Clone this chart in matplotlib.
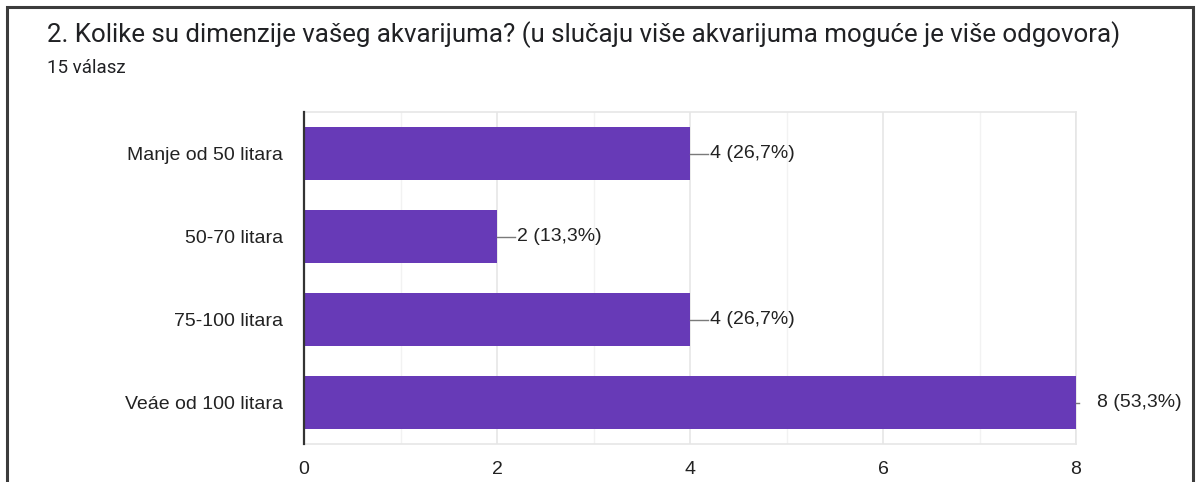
import matplotlib.pyplot as plt
from matplotlib.patches import Rectangle

plt.rcParams['font.family'] = ['Roboto', 'DejaVu Sans']

# data
categories = ["Manje od 50 litara", "50-70 litara", "75-100 litara", "Veáe od 100 litara"]
counts = [4, 2, 4, 8]
labels = ["4 (26,7%)", "2 (13,3%)", "4 (26,7%)", "8 (53,3%)"]
xticks = [0, 2, 4, 6, 8]

title = "2. Kolike su dimenzije vašeg akvarijuma? (u slučaju više akvarijuma moguće je više odgovora)"
subtitle = "15 válasz"

W, H = 1196, 482
fig = plt.figure(figsize=(W / 100, H / 100), dpi=100)
fig.patch.set_facecolor("white")

# card border
fig.patches.append(Rectangle((7 / W, -0.1), (1193 - 7) / W, 1.1 - 7 / H,
                             transform=fig.transFigure, fill=False,
                             edgecolor="#3c3c3c", linewidth=2.2, zorder=0))

fig.text(47 / W, 1 - 35 / H, title, fontsize=18.6, color="#202124", va="center")
fig.text(47 / W, 1 - 68 / H, subtitle, fontsize=13.5, color="#202124", va="center")

chart_font = ['Liberation Sans', 'DejaVu Sans']

ax = fig.add_axes([304 / W, 1 - 444 / H, (1076 - 304) / W, (444 - 112) / H])
y = list(range(len(categories)))
ax.barh(y, counts, height=0.63, color="#673AB7", zorder=3)
ax.set_ylim(len(categories) - 0.5, -0.5)
ax.set_xlim(0, 8)

ax.set_xticks(xticks)
ax.set_xticks([1, 3, 5, 7], minor=True)
ax.set_yticks(y)
ax.set_yticklabels(categories, family=chart_font)
for t in ax.get_xticklabels():
    t.set_family(chart_font)
ax.tick_params(axis="both", which="both", length=0, labelsize=14, colors="#222222")
ax.tick_params(axis="y", pad=15)
ax.tick_params(axis="x", pad=12)
ax.grid(axis="x", which="major", color="#e6e6e6", linewidth=1.2, zorder=0)
ax.grid(axis="x", which="minor", color="#f2f2f2", linewidth=1.0, zorder=0)

for s in ["top", "right", "bottom"]:
    ax.spines[s].set_color("#e6e6e6")
    ax.spines[s].set_linewidth(1.2)
ax.spines["left"].set_color("#333333")
ax.spines["left"].set_linewidth(1.6)
ax.spines["left"].set_zorder(4)

px = 8 / (1076 - 304)  # data units per pixel
for i, (c, lab) in enumerate(zip(counts, labels)):
    top = c == max(counts)
    lead = 3 if top else 18
    ax.plot([c, c + lead * px], [i, i], color="#7a7a7a", linewidth=1, clip_on=False, zorder=4)
    ax.text(c + (21 if top else 20) * px, i, lab, family=chart_font,
            va="center", ha="left", fontsize=14, color="#222222", clip_on=False)

fig.savefig("out.png", dpi=100)
